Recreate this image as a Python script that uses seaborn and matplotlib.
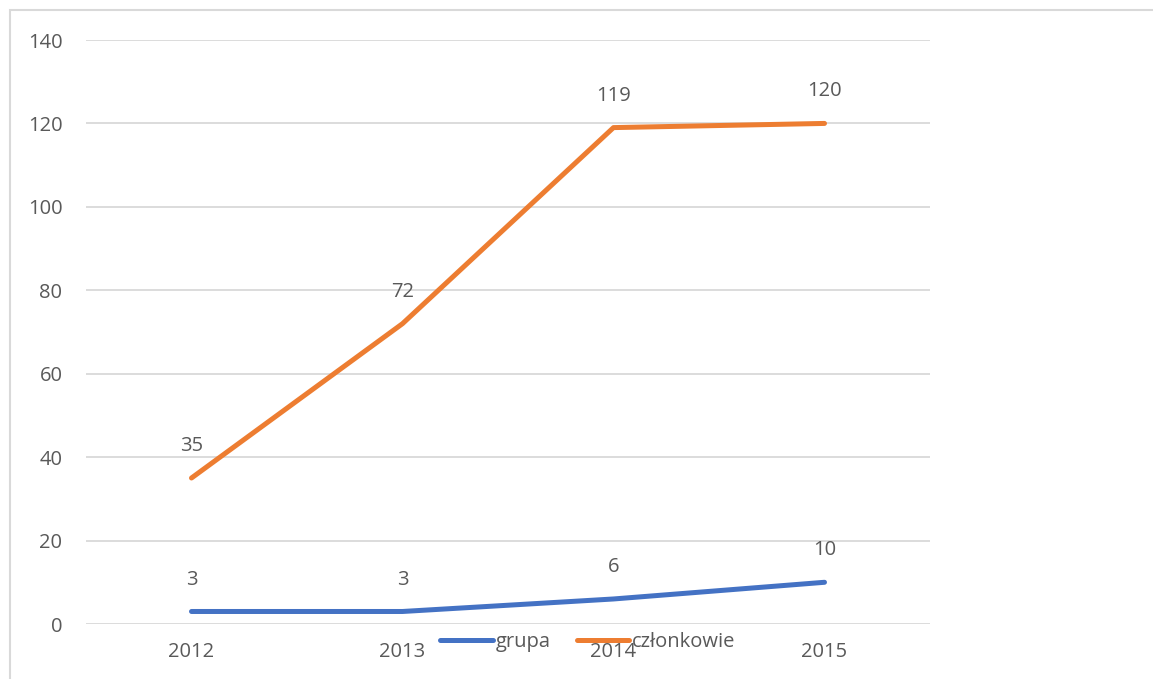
import matplotlib
matplotlib.use("Agg")
import matplotlib.pyplot as plt
from matplotlib.lines import Line2D
from matplotlib.patches import Rectangle
import seaborn as sb
import pandas as pd

years = ["2012", "2013", "2014", "2015"]
grupa = [3, 3, 6, 10]
czlonkowie = [35, 72, 119, 120]
series_names = ["grupa", "członkowie"]
colors = {"grupa": "#4472C4", "członkowie": "#ED7D31"}
y_ticks = [0, 20, 40, 60, 80, 100, 120, 140]

df = pd.DataFrame({
    "rok": years * 2,
    "wartosc": grupa + czlonkowie,
    "seria": [series_names[0]] * len(years) + [series_names[1]] * len(years),
})

sb.set_style("white")
plt.rcParams['font.family'] = ['Open Sans', 'DejaVu Sans']
text_col = "#595959"
grid_col = "#d9d9d9"
fs = 14.5

fig = plt.figure(figsize=(11.53, 6.79), dpi=100)
ax = fig.add_axes([86 / 1153, 55 / 679, 844 / 1153, 584 / 679])

sb.lineplot(data=df, x="rok", y="wartosc", hue="seria", palette=colors, sort=False,
            linewidth=3.6, legend=False, ax=ax, solid_capstyle="round")

ax.set_xlim(-0.5, 3.5)
ax.set_ylim(0, 140)
ax.set_yticks(y_ticks)
ax.yaxis.grid(True, color=grid_col, linewidth=1.3)
ax.set_axisbelow(True)
for s in ax.spines.values():
    s.set_visible(False)
ax.tick_params(axis="both", length=0, labelsize=fs, labelcolor=text_col)
ax.tick_params(axis="y", pad=17)
ax.tick_params(axis="x", pad=13)
ax.set_xlabel("")
ax.set_ylabel("")

# data labels
for name, vals in zip(series_names, [grupa, czlonkowie]):
    for i, v in enumerate(vals):
        ax.annotate(str(v), (i, v), xytext=(0, 23), textcoords="offset points",
                    ha="center", va="center", fontsize=fs, color=text_col)

handles = [Line2D([], [], color=colors[n], linewidth=3.6, solid_capstyle="round") for n in series_names]
fig.legend(handles, series_names, loc="center", bbox_to_anchor=(588 / 1153, 1 - 642 / 679),
           ncol=2, frameon=False, fontsize=fs, labelcolor=text_col,
           handlelength=2.6, handletextpad=0.15, columnspacing=1.3)

# chart area frame
fig.patches.append(Rectangle((10 / 1153, -0.1), 1.0, 1.1 - 10 / 679,
                             transform=fig.transFigure, fill=False,
                             edgecolor=grid_col, linewidth=1.5))

fig.savefig("out.png", dpi=100)
